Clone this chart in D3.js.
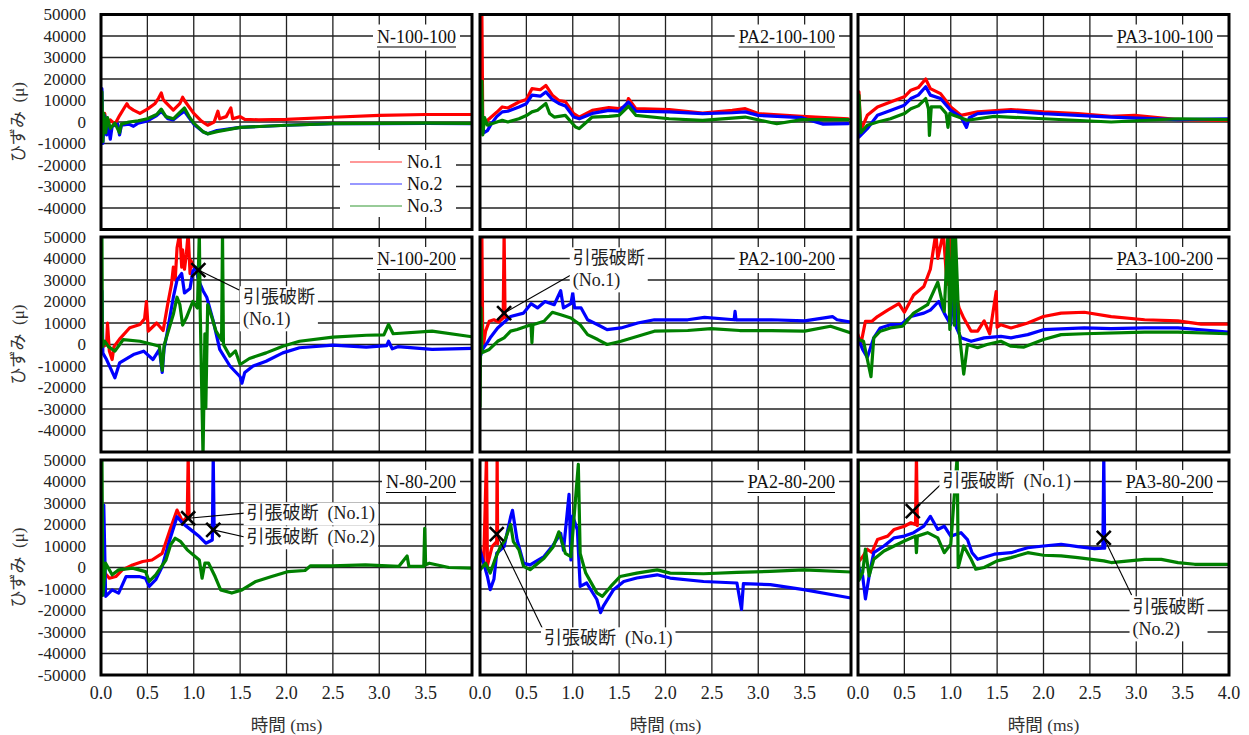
<!DOCTYPE html>
<html><head><meta charset="utf-8">
<script src="https://cdn.jsdelivr.net/npm/d3@7"></script>
<style>body{margin:0;background:#fff}svg{display:block}</style>
</head><body>
<svg id="chart" width="1249" height="735"></svg>
<script>
// ---------- categories / labels ----------
const panelNames = ["N-100-100","PA2-100-100","PA3-100-100","N-100-200","PA2-100-200","PA3-100-200","N-80-200","PA2-80-200","PA3-80-200"];
const seriesNames = ["No.1","No.2","No.3"];
const seriesColors = ["#ff0000","#0000ff","#008000"];
const xTickValues = [0,0.5,1.0,1.5,2.0,2.5,3.0,3.5,4.0];
const yTickValues = [50000,40000,30000,20000,10000,0,-10000,-20000,-30000,-40000,-50000];
const yTitle = "ひずみ\u2002(μ)";
const xTitle = "時間 (ms)";
const breakText = "引張破断";

// ---------- series values [time ms, strain μ] ----------
const N100100_No1 = [[0,0],[0.02,-3000],[0.04,4000],[0.06,-2000],[0.1,1000],[0.15,-1000],[0.2,3000],[0.25,6500],[0.28,8500],[0.3,7000],[0.35,5500],[0.42,4000],[0.5,6000],[0.58,8500],[0.62,11000],[0.65,13500],[0.67,10500],[0.7,9000],[0.78,5500],[0.85,8500],[0.88,11500],[0.9,10000],[0.95,7000],[1.0,4000],[1.08,500],[1.15,-1500],[1.22,0],[1.26,5000],[1.28,1500],[1.35,2500],[1.4,6500],[1.42,1500],[1.5,2500],[1.55,1200],[1.7,1000],[2.0,1200],[2.5,2200],[3.0,3100],[3.5,3500],[4.0,3500]];
const N100100_No2 = [[0,-3000],[0.01,15500],[0.02,-10000],[0.04,3000],[0.06,-6000],[0.08,-2000],[0.1,-8000],[0.12,-2000],[0.18,-1000],[0.2,-6000],[0.22,-1500],[0.3,-1000],[0.35,-2000],[0.4,-500],[0.5,500],[0.6,3000],[0.65,5000],[0.72,1500],[0.78,1000],[0.85,3500],[0.9,5000],[0.95,2000],[1.0,-1000],[1.1,-4500],[1.15,-5500],[1.25,-4000],[1.5,-2500],[2.0,-1500],[2.5,-800],[3.0,-800],[3.5,-700],[4.0,-800]];
const N100100_No3 = [[0,0],[0.01,14000],[0.02,-9000],[0.03,4000],[0.05,-5000],[0.07,2000],[0.1,-3000],[0.15,-500],[0.2,-5000],[0.22,-1000],[0.3,0],[0.4,500],[0.5,1500],[0.6,3500],[0.65,6000],[0.7,2500],[0.78,1500],[0.85,4500],[0.9,6500],[0.95,2500],[1.0,-500],[1.1,-4500],[1.15,-5500],[1.25,-4500],[1.5,-2500],[2.0,-1500],[2.5,-800],[3.0,-600],[3.5,-500],[4.0,-600]];

const PA2100100_No1 = [[0,1000],[0.02,52000],[0.03,-2000],[0.06,0],[0.1,1500],[0.18,4500],[0.24,7000],[0.3,6500],[0.42,9300],[0.5,10500],[0.56,15500],[0.65,15000],[0.71,17000],[0.78,12500],[0.85,10000],[0.92,9500],[1.01,3900],[1.07,2300],[1.21,5400],[1.39,6700],[1.5,6200],[1.58,7500],[1.6,10900],[1.68,6200],[2.04,5800],[2.4,4200],[2.72,5400],[2.86,6200],[3.0,3900],[3.47,2600],[3.97,1500]];
const PA2100100_No2 = [[0,-2000],[0.02,4000],[0.04,-5000],[0.08,-4000],[0.12,-1000],[0.18,2500],[0.24,4700],[0.3,5000],[0.42,7000],[0.5,8500],[0.56,12500],[0.65,12000],[0.71,14000],[0.78,10500],[0.85,8600],[0.92,7500],[1.01,2300],[1.07,1500],[1.21,4000],[1.39,5400],[1.5,5000],[1.6,9300],[1.68,5000],[2.04,4700],[2.4,3900],[2.72,4300],[2.86,4700],[3.0,3100],[3.47,2000],[3.7,-1000],[3.97,-800]];
const PA2100100_No3 = [[0,0],[0.02,19000],[0.03,-6000],[0.05,2000],[0.08,-1500],[0.15,-500],[0.24,800],[0.3,0],[0.42,1500],[0.5,3000],[0.56,4700],[0.62,5500],[0.71,8600],[0.75,4000],[0.8,2300],[0.92,3100],[1.03,-2300],[1.07,-3100],[1.15,0],[1.21,2300],[1.39,2600],[1.5,3100],[1.6,7300],[1.68,3100],[2.04,1500],[2.4,800],[2.86,2300],[3.2,-800],[3.47,1100],[3.97,1100]];

const PA3100100_No1 = [[0,1000],[0.01,14000],[0.03,-3900],[0.1,3100],[0.21,7000],[0.35,9300],[0.5,11700],[0.57,14800],[0.65,16000],[0.73,20000],[0.78,15500],[0.89,13200],[1.0,7000],[1.11,3100],[1.29,4700],[1.65,5800],[2.0,4700],[2.37,3900],[2.73,2600],[2.98,3100],[3.45,1100],[3.99,800]];
const PA3100100_No2 = [[0,-1000],[0.01,-7000],[0.1,-3100],[0.21,3100],[0.35,5400],[0.5,7800],[0.57,10900],[0.65,12500],[0.73,16400],[0.78,12500],[0.89,10900],[1.0,5400],[1.11,2300],[1.17,-2500],[1.2,2000],[1.29,3900],[1.65,5000],[2.0,3900],[2.37,3100],[2.73,2300],[3.45,1100],[3.99,1500]];
const PA3100100_No3 = [[0,0],[0.01,12500],[0.03,-5000],[0.1,-1500],[0.21,0],[0.35,1500],[0.5,3900],[0.57,6200],[0.65,7500],[0.73,10900],[0.76,6000],[0.77,-6200],[0.79,7000],[0.89,7000],[0.95,4000],[0.97,-2500],[0.99,4000],[1.03,3100],[1.18,800],[1.47,2600],[2.0,1500],[2.73,0],[3.45,1500],[3.99,1100]];

const N100200_No1 = [[0,1500],[0.02,-1000],[0.06,0],[0.07,10000],[0.09,-3000],[0.12,-7000],[0.14,-1000],[0.2,2500],[0.31,7800],[0.42,9300],[0.47,12000],[0.49,20000],[0.51,6200],[0.6,10000],[0.67,6500],[0.72,19000],[0.76,28000],[0.78,36000],[0.8,30000],[0.82,45000],[0.85,52000],[0.87,36000],[0.88,44000],[0.9,35000],[0.92,42000],[0.94,52000],[0.96,33000],[0.97,39000],[1.0,36000],[1.03,34600]];
const N100200_No2 = [[0,-3100],[0.01,25000],[0.02,-4000],[0.06,-7000],[0.15,-15500],[0.2,-8600],[0.35,-4700],[0.46,-3100],[0.56,-7000],[0.63,-2300],[0.66,-13000],[0.68,-2000],[0.71,4700],[0.78,22000],[0.82,30000],[0.87,33000],[0.9,24000],[0.96,26000],[0.99,34000],[1.02,36000],[1.05,30000],[1.1,25000],[1.14,22000],[1.21,11000],[1.28,-2300],[1.39,-10000],[1.5,-15000],[1.52,-18000],[1.55,-13000],[1.64,-10000],[1.78,-7800],[1.96,-3900],[2.14,-1500],[2.5,-300],[2.86,-1200],[3.08,-500],[3.1,1500],[3.14,-2000],[3.2,-1000],[3.57,-2300],[4.0,-1800]];
const N100200_No3 = [[0,1000],[0.01,52000],[0.015,-1000],[0.04,1500],[0.08,-1000],[0.15,-3100],[0.24,2300],[0.42,1500],[0.56,0],[0.63,-800],[0.66,-12000],[0.68,-500],[0.71,3900],[0.78,14000],[0.82,22000],[0.85,18600],[0.88,9000],[0.92,12400],[0.99,20000],[1.04,17000],[1.06,52000],[1.07,15000],[1.1,-52000],[1.12,5000],[1.13,-29500],[1.15,18600],[1.2,12000],[1.24,6200],[1.3,2000],[1.31,52000],[1.32,0],[1.39,-5400],[1.45,-3000],[1.5,-9300],[1.6,-6500],[1.78,-3900],[1.96,-800],[2.14,1500],[2.5,3400],[2.86,4300],[3.05,4500],[3.1,9300],[3.15,5000],[3.57,6200],[4.0,3600]];

const PA2100200_No1 = [[0,-4600],[0.02,52000],[0.03,-2000],[0.06,6200],[0.1,10800],[0.15,11500],[0.2,10500],[0.25,12300],[0.26,52000],[0.27,13000],[0.28,12500]];
const PA2100200_No2 = [[0,-6000],[0.03,-2000],[0.08,1000],[0.11,3100],[0.19,7700],[0.33,13000],[0.47,14600],[0.55,19000],[0.62,17000],[0.7,20000],[0.8,18500],[0.87,25000],[0.9,17000],[0.98,19000],[1.0,24000],[1.02,17000],[1.09,17000],[1.16,11500],[1.27,9200],[1.37,6900],[1.52,7700],[1.7,10000],[1.88,11500],[2.24,11500],[2.42,12600],[2.74,11500],[2.75,15400],[2.76,11500],[3.14,11500],[3.5,11000],[3.8,13000],[3.85,11500],[4.0,10400]];
const PA2100200_No3 = [[0,-29000],[0.01,17000],[0.02,-3800],[0.1,-2300],[0.19,1500],[0.26,3100],[0.33,6200],[0.4,7000],[0.55,9200],[0.56,800],[0.57,9200],[0.69,10800],[0.78,15000],[0.87,13800],[0.98,12300],[1.08,9200],[1.16,4600],[1.27,2300],[1.37,0],[1.52,1500],[1.7,3800],[1.88,6200],[2.24,6500],[2.49,7400],[2.8,6500],[3.14,6500],[3.5,6200],[3.78,8500],[4.0,5400]];

const PA3100200_No1 = [[0,4600],[0.03,0],[0.08,10800],[0.15,10800],[0.21,13000],[0.32,16000],[0.44,19000],[0.5,15000],[0.6,23000],[0.71,27000],[0.78,35000],[0.84,52000],[0.86,40000],[0.92,52000],[0.96,28000],[1.0,52000],[1.04,26000],[1.09,17000],[1.14,12300],[1.22,6200],[1.29,6200],[1.36,11000],[1.42,5000],[1.49,24600],[1.5,8000],[1.54,9200],[1.65,7700],[1.83,10000],[2.0,13000],[2.19,14600],[2.44,15000],[2.73,13000],[3.09,11500],[3.45,11000],[3.7,9500],[3.99,9500]];
const PA3100200_No2 = [[0,3100],[0.05,-2300],[0.1,-6000],[0.17,3100],[0.24,7700],[0.35,9200],[0.46,9200],[0.57,13000],[0.71,14600],[0.78,16000],[0.87,20000],[0.93,14600],[1.0,9200],[1.04,34000],[1.06,8000],[1.11,3100],[1.22,1500],[1.36,3100],[1.54,3800],[1.65,3100],[1.83,4600],[2.0,6900],[2.44,7700],[2.73,7400],[3.09,7700],[3.45,7700],[3.99,5800]];
const PA3100200_No3 = [[0,2300],[0.06,1500],[0.14,-15000],[0.17,3100],[0.24,6200],[0.35,7700],[0.48,8500],[0.6,14600],[0.75,18500],[0.86,29000],[0.93,15400],[0.97,52000],[0.99,7000],[1.02,52000],[1.04,9000],[1.05,52000],[1.09,6200],[1.14,-13800],[1.18,0],[1.29,-1500],[1.39,0],[1.54,1500],[1.65,-800],[1.79,-1200],[2.0,2300],[2.19,4600],[2.44,5000],[3.09,5800],[3.45,5800],[3.99,5000]];

const N80200_No1 = [[0,3500],[0.01,9700],[0.03,-2000],[0.09,-5000],[0.16,-4200],[0.23,-1100],[0.34,1200],[0.45,2800],[0.55,3500],[0.66,6600],[0.75,18200],[0.82,26700],[0.88,21300],[0.93,23600],[0.94,52000],[0.95,22900]];
const N80200_No2 = [[0,0],[0.03,29000],[0.05,-13400],[0.12,-10400],[0.19,-11900],[0.27,-4200],[0.41,-4200],[0.48,-5000],[0.52,-8800],[0.59,-5700],[0.66,500],[0.73,11300],[0.82,23600],[0.88,20600],[0.97,17500],[1.06,14400],[1.13,11300],[1.2,12800],[1.21,52000],[1.22,17500]];
const N80200_No3 = [[0,-4000],[0.01,52000],[0.02,-13000],[0.05,2000],[0.12,-3400],[0.19,-1100],[0.34,-300],[0.48,-1900],[0.52,-6500],[0.59,-3400],[0.7,3500],[0.75,10500],[0.8,13600],[0.86,12000],[0.93,8200],[1.06,3500],[1.09,-5000],[1.12,2000],[1.16,2000],[1.23,-4200],[1.29,-10400],[1.41,-11900],[1.52,-10400],[1.67,-6500],[1.84,-4200],[2.02,-1900],[2.2,-1400],[2.26,800],[2.49,800],[2.85,1200],[3.21,500],[3.3,5400],[3.32,500],[3.48,500],[3.49,18200],[3.5,1200],[3.54,2000],[3.75,0],[4.0,-300]];

const PA280200_No1 = [[0,9700],[0.02,3500],[0.04,2000],[0.07,52000],[0.08,1000],[0.13,9700],[0.18,12000],[0.185,52000],[0.19,11000]];
const PA280200_No2 = [[0,8200],[0.04,2000],[0.08,-4200],[0.11,-10300],[0.15,-5500],[0.18,6600],[0.26,9700],[0.33,23500],[0.35,26600],[0.4,12800],[0.47,2000],[0.54,1200],[0.69,5100],[0.79,10500],[0.87,15900],[0.9,8000],[0.96,34000],[0.98,3500],[1.0,24000],[1.05,17400],[1.08,-8800],[1.15,-7200],[1.26,-14900],[1.3,-21000],[1.33,-18000],[1.44,-10300],[1.55,-6500],[1.69,-4900],[1.91,-3400],[2.05,-4900],[2.41,-6500],[2.77,-7200],[2.82,-19500],[2.84,-7500],[3.13,-8000],[3.49,-10300],[4.0,-14200]];
const PA280200_No3 = [[0,-1100],[0.06,2000],[0.11,-2600],[0.16,3500],[0.22,9700],[0.27,12800],[0.33,20000],[0.36,12000],[0.42,8200],[0.47,500],[0.54,-1000],[0.69,4300],[0.79,9700],[0.85,16600],[0.92,6600],[0.98,5000],[1.06,48000],[1.08,6600],[1.14,-2600],[1.26,-11800],[1.32,-13400],[1.41,-8800],[1.51,-4200],[1.69,-2600],[1.91,-1100],[2.05,-2600],[2.41,-2900],[2.77,-2300],[3.13,-1800],[3.49,-1100],[4.0,-2100]];

const PA380200_No1 = [[0,2300],[0.05,5000],[0.1,8500],[0.15,7000],[0.21,13000],[0.32,14600],[0.39,17700],[0.5,19200],[0.57,20800],[0.62,20000],[0.63,52000],[0.64,19500]];
const PA380200_No2 = [[0,800],[0.05,-3900],[0.08,-14600],[0.12,-3900],[0.17,6900],[0.28,10000],[0.39,13800],[0.5,14600],[0.6,16200],[0.71,19200],[0.78,23800],[0.86,17700],[0.93,19200],[1.0,14600],[1.11,16200],[1.18,13000],[1.23,6900],[1.29,3800],[1.47,6200],[1.65,6900],[1.83,9200],[2.0,10000],[2.19,10800],[2.37,9700],[2.55,8800],[2.64,9000],[2.65,52000],[2.66,9000]];
const PA380200_No3 = [[0,52000],[0.01,-6000],[0.05,-2300],[0.08,8500],[0.12,-3900],[0.17,3800],[0.28,7700],[0.39,10000],[0.5,12300],[0.62,14600],[0.63,6900],[0.64,14600],[0.75,16200],[0.86,13800],[0.93,6900],[1.0,10800],[1.07,52000],[1.08,0],[1.14,10000],[1.22,3800],[1.27,-800],[1.36,0],[1.5,3100],[1.65,4600],[1.83,6900],[2.0,5700],[2.19,5400],[2.37,4600],[2.65,3100],[2.73,2300],[3.09,3800],[3.27,3800],[3.45,2300],[3.63,1500],[3.99,1500]];

const panelSeries = [
  [N100100_No1, N100100_No2, N100100_No3],
  [PA2100100_No1, PA2100100_No2, PA2100100_No3],
  [PA3100100_No1, PA3100100_No2, PA3100100_No3],
  [N100200_No1, N100200_No2, N100200_No3],
  [PA2100200_No1, PA2100200_No2, PA2100200_No3],
  [PA3100200_No1, PA3100200_No2, PA3100200_No3],
  [N80200_No1, N80200_No2, N80200_No3],
  [PA280200_No1, PA280200_No2, PA280200_No3],
  [PA380200_No1, PA380200_No2, PA380200_No3]
];

// ---------- tensile-break annotations (data coords) ----------
const breakPanels   = [3, 4, 6, 6, 7, 8, 8];
const breakTimes    = [1.05, 0.26, 0.94, 1.21, 0.18, 0.59, 2.65];
const breakStrains  = [34600, 14600, 22900, 17500, 15500, 26200, 13800];
const breakSpecimen = ["(No.1)","(No.1)","(No.1)","(No.2)","(No.1)","(No.1)","(No.2)"];
const labelTimes    = [1.53, 1.0, 1.57, 1.57, 0.69, 0.91, 2.96];
const labelStrains  = [22100, 40200, 25300, 14200, -32800, 40200, -18400];
const labelTwoLine  = [true, true, false, false, false, false, true];
const leaderTimes   = [1.49, 0.98, 1.55, 1.55, 0.68, 0.91, 2.95];
const leaderStrains = [25350, 32300, 25300, 14200, -29000, 39300, -12800];

// ---------- layout ----------
const colX = [101, 480, 858];
const rowY = [14.5, 237, 460];
const plotW = 371, plotH = 215;
const serif = "'Liberation Serif','Times New Roman',serif";
const mixed = "'Liberation Serif','Noto Sans CJK JP',serif";

const svg = d3.select("#chart");
svg.append("rect").attr("width",1249).attr("height",735).attr("fill","#fff");

const panels = panelNames.map((name,i)=>{
  const c = i%3, r = Math.floor(i/3);
  const x = d3.scaleLinear().domain([0,4]).range([colX[c], colX[c]+plotW]);
  const y = d3.scaleLinear().domain([-50000,50000]).range([rowY[r]+plotH, rowY[r]]);
  return {name,c,r,x,y,i};
});

const defs = svg.append("defs");

panels.forEach(p=>{
  const g = svg.append("g");
  const inner = xTickValues.filter(v=>v>0 && v<4);
  g.selectAll(".vg").data(inner).join("line")
    .attr("x1",d=>p.x(d)).attr("x2",d=>p.x(d))
    .attr("y1",p.y(50000)).attr("y2",p.y(-50000))
    .attr("stroke","#222").attr("stroke-width",1.3);
  const innerY = yTickValues.filter(v=>v>-50000 && v<50000);
  g.selectAll(".hg").data(innerY).join("line")
    .attr("y1",d=>p.y(d)).attr("y2",d=>p.y(d))
    .attr("x1",p.x(0)).attr("x2",p.x(4))
    .attr("stroke","#222").attr("stroke-width",1.3);

  const cid = "clip"+p.i;
  defs.append("clipPath").attr("id",cid).append("rect")
    .attr("x",p.x(0)).attr("y",p.y(50000)).attr("width",plotW).attr("height",plotH);

  const line = d3.line().x(d=>p.x(d[0])).y(d=>p.y(d[1]));
  const lg = g.append("g").attr("clip-path",`url(#${cid})`);
  panelSeries[p.i].forEach((s,k)=>{
    lg.append("path").datum(s).attr("d",line)
      .attr("fill","none").attr("stroke",seriesColors[k])
      .attr("stroke-width",3.2).attr("stroke-linejoin","round").attr("stroke-linecap","round");
  });

  const tg = g.append("g");
  const tx = p.x(4)-16, ty = p.y(50000)+28;
  const bg = tg.append("rect").attr("fill","#fff");
  const t = tg.append("text").attr("x",tx).attr("y",ty).attr("text-anchor","end")
    .attr("font-family",serif).attr("font-size",18).attr("fill","#111").text(p.name);
  const bb = t.node().getBBox();
  bg.attr("x",bb.x-4).attr("y",bb.y-2).attr("width",bb.width+8).attr("height",bb.height+6);
  tg.append("line").attr("x1",bb.x).attr("x2",bb.x+bb.width).attr("y1",ty+4.5).attr("y2",ty+4.5)
    .attr("stroke","#000").attr("stroke-width",1.2);
});

// legend in first panel
{
  const lgd = svg.append("g");
  lgd.append("rect").attr("x",340).attr("y",150).attr("width",116).attr("height",67).attr("fill","#fff");
  seriesNames.forEach((n,k)=>{
    const yy = 162 + k*22;
    lgd.append("line").attr("x1",350).attr("x2",402).attr("y1",yy).attr("y2",yy)
      .attr("stroke",seriesColors[k]).attr("stroke-width",1.2).attr("opacity",0.8);
    lgd.append("text").attr("x",407).attr("y",yy).attr("dy","0.35em")
      .attr("font-family",serif).attr("font-size",18).attr("fill","#111").text(n);
  });
}

// break annotations
const ann = svg.append("g");
breakPanels.forEach((pi,j)=>{
  const p = panels[pi];
  ann.append("line").attr("x1",p.x(breakTimes[j])).attr("y1",p.y(breakStrains[j]))
    .attr("x2",p.x(leaderTimes[j])).attr("y2",p.y(leaderStrains[j]))
    .attr("stroke","#000").attr("stroke-width",1.1);
});
breakPanels.forEach((pi,j)=>{
  const p = panels[pi];
  const tx = p.x(labelTimes[j]), ty = p.y(labelStrains[j]);
  const tg = ann.append("g");
  const bg = tg.append("rect").attr("fill","#fff");
  const t = tg.append("text").attr("font-family",mixed).attr("font-size",18).attr("fill","#222");
  if (labelTwoLine[j]) {
    t.append("tspan").attr("x",tx).attr("y",ty).attr("dy","0.35em").text(breakText);
    t.append("tspan").attr("x",tx).attr("y",ty+22).attr("dy","0.35em").text(breakSpecimen[j]);
  } else {
    t.append("tspan").attr("x",tx).attr("y",ty).attr("dy","0.35em").text(breakText+"\u2002"+breakSpecimen[j]);
  }
  const bb = t.node().getBBox();
  bg.attr("x",bb.x-3).attr("y",bb.y-1).attr("width",bb.width+6).attr("height",bb.height+2);
});
breakPanels.forEach((pi,j)=>{
  const p = panels[pi];
  const mx = p.x(breakTimes[j]), my = p.y(breakStrains[j]), s = 7;
  ann.append("path").attr("d",`M${mx-s},${my-s}L${mx+s},${my+s}M${mx-s},${my+s}L${mx+s},${my-s}`)
    .attr("stroke","#000").attr("stroke-width",2.6).attr("fill","none");
});

// frames
panels.forEach(p=>{
  svg.append("rect").attr("x",p.x(0)).attr("y",p.y(50000)).attr("width",plotW).attr("height",plotH)
    .attr("fill","none").attr("stroke","#000").attr("stroke-width",3);
});

// y axis labels (first column)
[0,1,2].forEach(r=>{
  const p = panels[r*3];
  const vals = r<2 ? yTickValues.slice(0,10) : yTickValues;
  svg.append("g").selectAll("text").data(vals).join("text")
    .attr("x",86).attr("y",d=>p.y(d)).attr("dy","0.35em").attr("text-anchor","end")
    .attr("font-family",serif).attr("font-size",17).attr("fill","#222")
    .text(d=>d);
  svg.append("text").attr("transform",`translate(18,${p.y(0)}) rotate(-90)`)
    .attr("text-anchor","middle").attr("dy","0.35em")
    .attr("font-family",mixed).attr("font-size",17).attr("fill","#333").text(yTitle);
});

// x axis labels (bottom row)
[0,1,2].forEach(c=>{
  const p = panels[6+c];
  const vals = c<2 ? xTickValues.slice(0,8) : xTickValues;
  svg.append("g").selectAll("text").data(vals).join("text")
    .attr("x",d=>p.x(d)).attr("y",699).attr("text-anchor","middle")
    .attr("font-family",serif).attr("font-size",18).attr("fill","#222")
    .text(d=>d.toFixed(1));
  svg.append("text").attr("x",p.x(2)).attr("y",731).attr("text-anchor","middle")
    .attr("font-family",mixed).attr("font-size",17.5).attr("fill","#333").text(xTitle);
});
</script>
</body></html>
